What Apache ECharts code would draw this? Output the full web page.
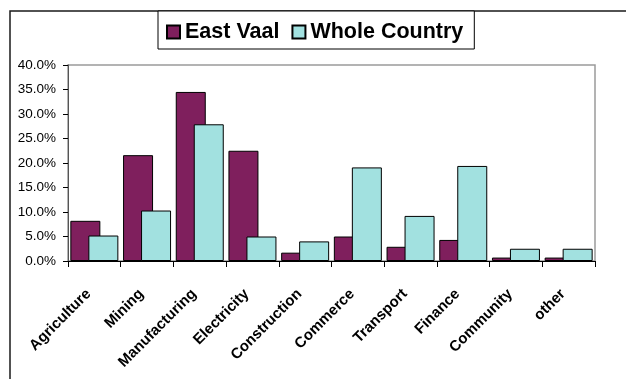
<!DOCTYPE html>
<html>
<head>
<meta charset="utf-8">
<script src="https://cdn.jsdelivr.net/npm/echarts@6/dist/echarts.min.js"></script>
<style>
  html, body { margin: 0; padding: 0; background: #fff; }
  #chart { width: 626px; height: 379px; }
</style>
</head>
<body>
<div id="chart"></div>
<script>
// Share of employment by sector (percent)
const categories = ['Agriculture', 'Mining', 'Manufacturing', 'Electricity', 'Construction',
                    'Commerce', 'Transport', 'Finance', 'Community', 'other'];
const eastVaal = [8.2, 21.6, 34.5, 22.5, 1.7, 5.0, 2.9, 4.3, 0.7, 0.7];
const wholeCountry = [5.2, 10.3, 27.9, 5.0, 4.0, 19.1, 9.2, 19.4, 2.5, 2.5];
const seriesNames = ['East Vaal', 'Whole Country'];

const FONT = 'Liberation Sans, Arial, sans-serif';
const chart = echarts.init(document.getElementById('chart'), null, { renderer: 'canvas' });

chart.setOption({
  animation: false,
  backgroundColor: '#fff',
  graphic: [{
    type: 'rect',
    shape: { x: 10, y: 11, width: 640, height: 400 },
    style: { fill: 'none', stroke: '#1a1a1a', lineWidth: 1.5 },
    silent: true,
    z: -1
  }],
  legend: {
    left: 158,
    top: 11,
    padding: [10, 11, 6, 8],
    itemGap: 12,
    itemWidth: 13,
    itemHeight: 13,
    icon: 'rect',
    backgroundColor: '#fff',
    borderColor: '#000',
    borderWidth: 1,
    textStyle: { fontFamily: FONT, fontSize: 21.5, fontWeight: 'bold', color: '#000' },
    data: seriesNames
  },
  grid: {
    left: 68, right: 31, top: 65, bottom: 118,
    show: true,
    borderColor: '#9a9a9a',
    borderWidth: 1.5,
    backgroundColor: '#fff'
  },
  xAxis: {
    type: 'category',
    data: categories,
    boundaryGap: true,
    axisLine: { lineStyle: { color: '#000', width: 1 } },
    axisTick: { show: true, alignWithLabel: false, length: 6, lineStyle: { color: '#000' } },
    axisLabel: {
      rotate: 45,
      margin: 25,
      padding: [0, 8, 0, 0],
      interval: 0,
      fontFamily: FONT,
      fontSize: 15,
      fontWeight: 'bold',
      color: '#000'
    }
  },
  yAxis: {
    type: 'value',
    min: 0,
    max: 40,
    interval: 5,
    splitLine: { show: false },
    axisLine: { show: true, lineStyle: { color: '#555', width: 1 } },
    axisTick: { show: true, length: 5, lineStyle: { color: '#000' } },
    axisLabel: {
      margin: 12,
      fontFamily: FONT,
      fontSize: 13.5,
      color: '#000',
      formatter: v => v.toFixed(1) + '%'
    }
  },
  series: [
    {
      name: seriesNames[0],
      type: 'bar',
      data: eastVaal,
      barWidth: 30,
      barGap: '-40%',
      itemStyle: { color: '#7f1f5d', borderColor: '#000', borderWidth: 1 }
    },
    {
      name: seriesNames[1],
      type: 'bar',
      data: wholeCountry,
      barWidth: 30,
      barGap: '-40%',
      itemStyle: { color: '#a2e1e0', borderColor: '#000', borderWidth: 1 }
    }
  ]
});
</script>
</body>
</html>
